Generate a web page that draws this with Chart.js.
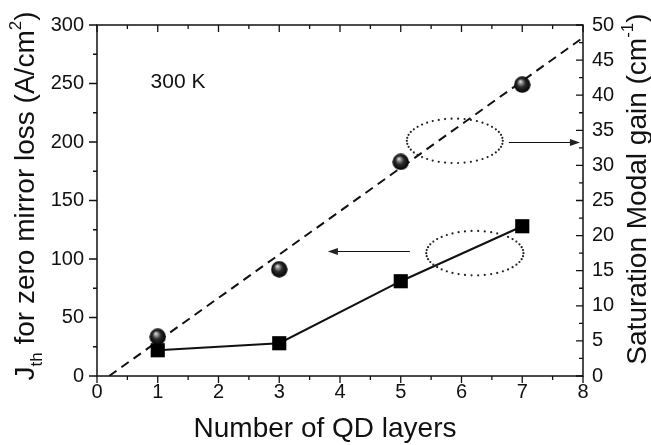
<html>
  <head>
    <script src="https://cdn.jsdelivr.net/npm/chart.js@4"></script>
    <style>
      body { margin: 0; background: #fff; }
      #wrap { width: 651px; height: 445px; }
    </style>
  </head>
  <body>
    <div id="wrap"><canvas id="chart"></canvas></div>
    <script>
// number of QD layers
var layers = [1, 3, 5, 7];
// threshold current density for zero mirror loss (A/cm^2), left axis
var jth = [22, 28, 81, 128];
// saturation modal gain (cm^-1), right axis
var gain = [5.6, 15.2, 30.5, 41.5];
// dashed linear fit of the gain
var fitX = [0.2, 8];
var fitGain = [0, 48.2];

var xTicks = [0, 1, 2, 3, 4, 5, 6, 7, 8];
var yTicks = [0, 50, 100, 150, 200, 250, 300];
var y2Ticks = [0, 5, 10, 15, 20, 25, 30, 35, 40, 45, 50];

var FONT = '"Liberation Sans", Arial, sans-serif';

function makeSphere(d) {
  var c = document.createElement("canvas");
  c.width = d; c.height = d;
  var ctx = c.getContext("2d");
  var g = ctx.createRadialGradient(d*0.38, d*0.3, 0, d*0.5, d*0.5, d*0.5);
  g.addColorStop(0, "#f2f2f2");
  g.addColorStop(0.2, "#9a9a9a");
  g.addColorStop(0.5, "#2a2a2a");
  g.addColorStop(1, "#000");
  ctx.fillStyle = g;
  ctx.beginPath();
  ctx.arc(d/2, d/2, d/2 - 0.3, 0, Math.PI*2);
  ctx.fill();
  return c;
}

function pts(xs, ys) {
  return xs.map((x, i) => ({x: x, y: ys[i]}));
}

// draw text made of plain / sub / sup pieces, centred on (cx, baseline)
function richText(ctx, parts, size, cx, baseY, rotate) {
  var small = Math.round(size * 0.62);
  var w = 0;
  parts.forEach(p => {
    ctx.font = (p.sub || p.sup ? small : size) + "px " + FONT;
    p.w = ctx.measureText(p.t).width;
    w += p.w;
  });
  ctx.save();
  ctx.translate(cx, baseY);
  if (rotate) ctx.rotate(-Math.PI/2);
  ctx.fillStyle = "#111";
  ctx.textBaseline = "alphabetic";
  ctx.textAlign = "left";
  var x = -w/2;
  parts.forEach(p => {
    ctx.font = (p.sub || p.sup ? small : size) + "px " + FONT;
    var dy = p.sub ? size*0.28 : (p.sup ? -size*0.45 : 0);
    ctx.fillText(p.t, x, dy);
    x += p.w;
  });
  ctx.restore();
}

var frame = {
  id: "frame",
  afterDraw(chart) {
    var ctx = chart.ctx, a = chart.chartArea;
    var sx = chart.scales.x, sy = chart.scales.y, sy2 = chart.scales.y2;
    ctx.save();
    ctx.strokeStyle = "#111";
    ctx.lineWidth = 1.5;
    ctx.strokeRect(a.left, a.top, a.right - a.left, a.bottom - a.top);

    ctx.lineWidth = 1.3;
    ctx.beginPath();
    sx.ticks.forEach(t => {
      var px = sx.getPixelForValue(t.value);
      var len = xTicks.includes(t.value) ? 7 : 4;
      ctx.moveTo(px, a.bottom); ctx.lineTo(px, a.bottom + len); // out
      ctx.moveTo(px, a.top); ctx.lineTo(px, a.top + len);       // in
    });
    sy.ticks.forEach(t => {
      var py = sy.getPixelForValue(t.value);
      var len = yTicks.includes(t.value) ? 8 : 4;
      ctx.moveTo(a.left, py); ctx.lineTo(a.left - len, py);
    });
    sy2.ticks.forEach(t => {
      var py = sy2.getPixelForValue(t.value);
      var len = y2Ticks.includes(t.value) ? 7 : 4;
      ctx.moveTo(a.right, py); ctx.lineTo(a.right - len, py);
    });
    ctx.stroke();

    // dotted ellipses + arrows pointing to the axis each group belongs to
    ctx.fillStyle = "#222";
    [[5.89, 201, 0.79, 19], [6.22, 105, 0.8, 19]].forEach(e => {
      var cx = sx.getPixelForValue(e[0]), cy = sy.getPixelForValue(e[1]);
      var rx = sx.getPixelForValue(e[0] + e[2]) - cx;
      var ry = cy - sy.getPixelForValue(e[1] + e[3]);
      for (var k = 0; k < 46; k++) {
        var th = k / 46 * Math.PI * 2;
        ctx.beginPath();
        ctx.arc(cx + rx*Math.cos(th), cy + ry*Math.sin(th), 1.1, 0, Math.PI*2);
        ctx.fill();
      }
    });
    function arrow(x0, x1, yv) {
      var p0 = sx.getPixelForValue(x0), p1 = sx.getPixelForValue(x1);
      var py = Math.round(sy.getPixelForValue(yv)) + 0.5;
      var dir = p1 > p0 ? 1 : -1;
      ctx.lineWidth = 1.2;
      ctx.beginPath();
      ctx.moveTo(p0, py); ctx.lineTo(p1 - dir*8, py);
      ctx.stroke();
      ctx.beginPath();
      ctx.moveTo(p1, py);
      ctx.lineTo(p1 - dir*10, py - 3.5);
      ctx.lineTo(p1 - dir*10, py + 3.5);
      ctx.closePath();
      ctx.fill();
    }
    arrow(6.78, 7.95, 200);
    arrow(5.15, 3.8, 107);

    // titles
    richText(ctx, [{t: "J"}, {t: "th", sub: true}, {t: " for zero mirror loss (A/cm"}, {t: "2", sup: true}, {t: ")"}], 28, 34, 196, true);
    richText(ctx, [{t: "Saturation Modal gain (cm"}, {t: "-1", sup: true}, {t: ")"}], 28, 646, 189, true);
    richText(ctx, [{t: "Number of QD layers"}], 28, 325, 437, false);
    richText(ctx, [{t: "300 K"}], 21, 178, 88, false);
    ctx.restore();
  }
};

new Chart(document.getElementById("chart"), {
  type: 'scatter',
  data: {
    datasets: [{
      label: 'fit',
      data: pts(fitX, fitGain),
      yAxisID: 'y2',
      showLine: true,
      borderColor: '#111',
      borderWidth: 2,
      borderDash: [9, 6],
      pointRadius: 0,
      order: 3
    }, {
      label: 'Jth',
      data: pts(layers, jth),
      yAxisID: 'y',
      showLine: true,
      borderColor: '#111',
      borderWidth: 2,
      pointStyle: 'rect',
      pointRadius: 10,
      pointBackgroundColor: '#000',
      pointBorderWidth: 0,
      order: 2
    }, {
      label: 'gain',
      data: pts(layers, gain),
      yAxisID: 'y2',
      pointStyle: makeSphere(17),
      order: 1
    }]
  },
  options: {
    responsive: true,
    maintainAspectRatio: false,
    animation: false,
    layout: { padding: { top: 17, left: 0, right: 0, bottom: 0 } },
    plugins: { legend: { display: false }, tooltip: { enabled: false } },
    scales: {
      x: {
        type: 'linear', min: 0, max: 8,
        grid: { display: false, drawTicks: false },
        border: { display: false },
        afterFit: s => { s.height = 69; },
        ticks: {
          stepSize: 0.5, autoSkip: false, maxRotation: 0, padding: 4,
          color: '#111', font: { family: FONT, size: 20 },
          callback: v => xTicks.includes(v) ? v : ''
        }
      },
      y: {
        position: 'left', min: 0, max: 300,
        grid: { display: false, drawTicks: false },
        border: { display: false },
        afterFit: s => { s.width = 97; },
        ticks: {
          stepSize: 25, autoSkip: false, padding: 13,
          color: '#111', font: { family: FONT, size: 20 },
          callback: v => yTicks.includes(v) ? v : ''
        }
      },
      y2: {
        position: 'right', min: 0, max: 50,
        grid: { display: false, drawTicks: false },
        border: { display: false },
        afterFit: s => { s.width = 68; },
        ticks: {
          stepSize: 2.5, autoSkip: false, padding: 9,
          color: '#111', font: { family: FONT, size: 20 },
          callback: v => y2Ticks.includes(v) ? v : ''
        }
      }
    }
  },
  plugins: [frame]
});
    </script>
  </body>
</html>
